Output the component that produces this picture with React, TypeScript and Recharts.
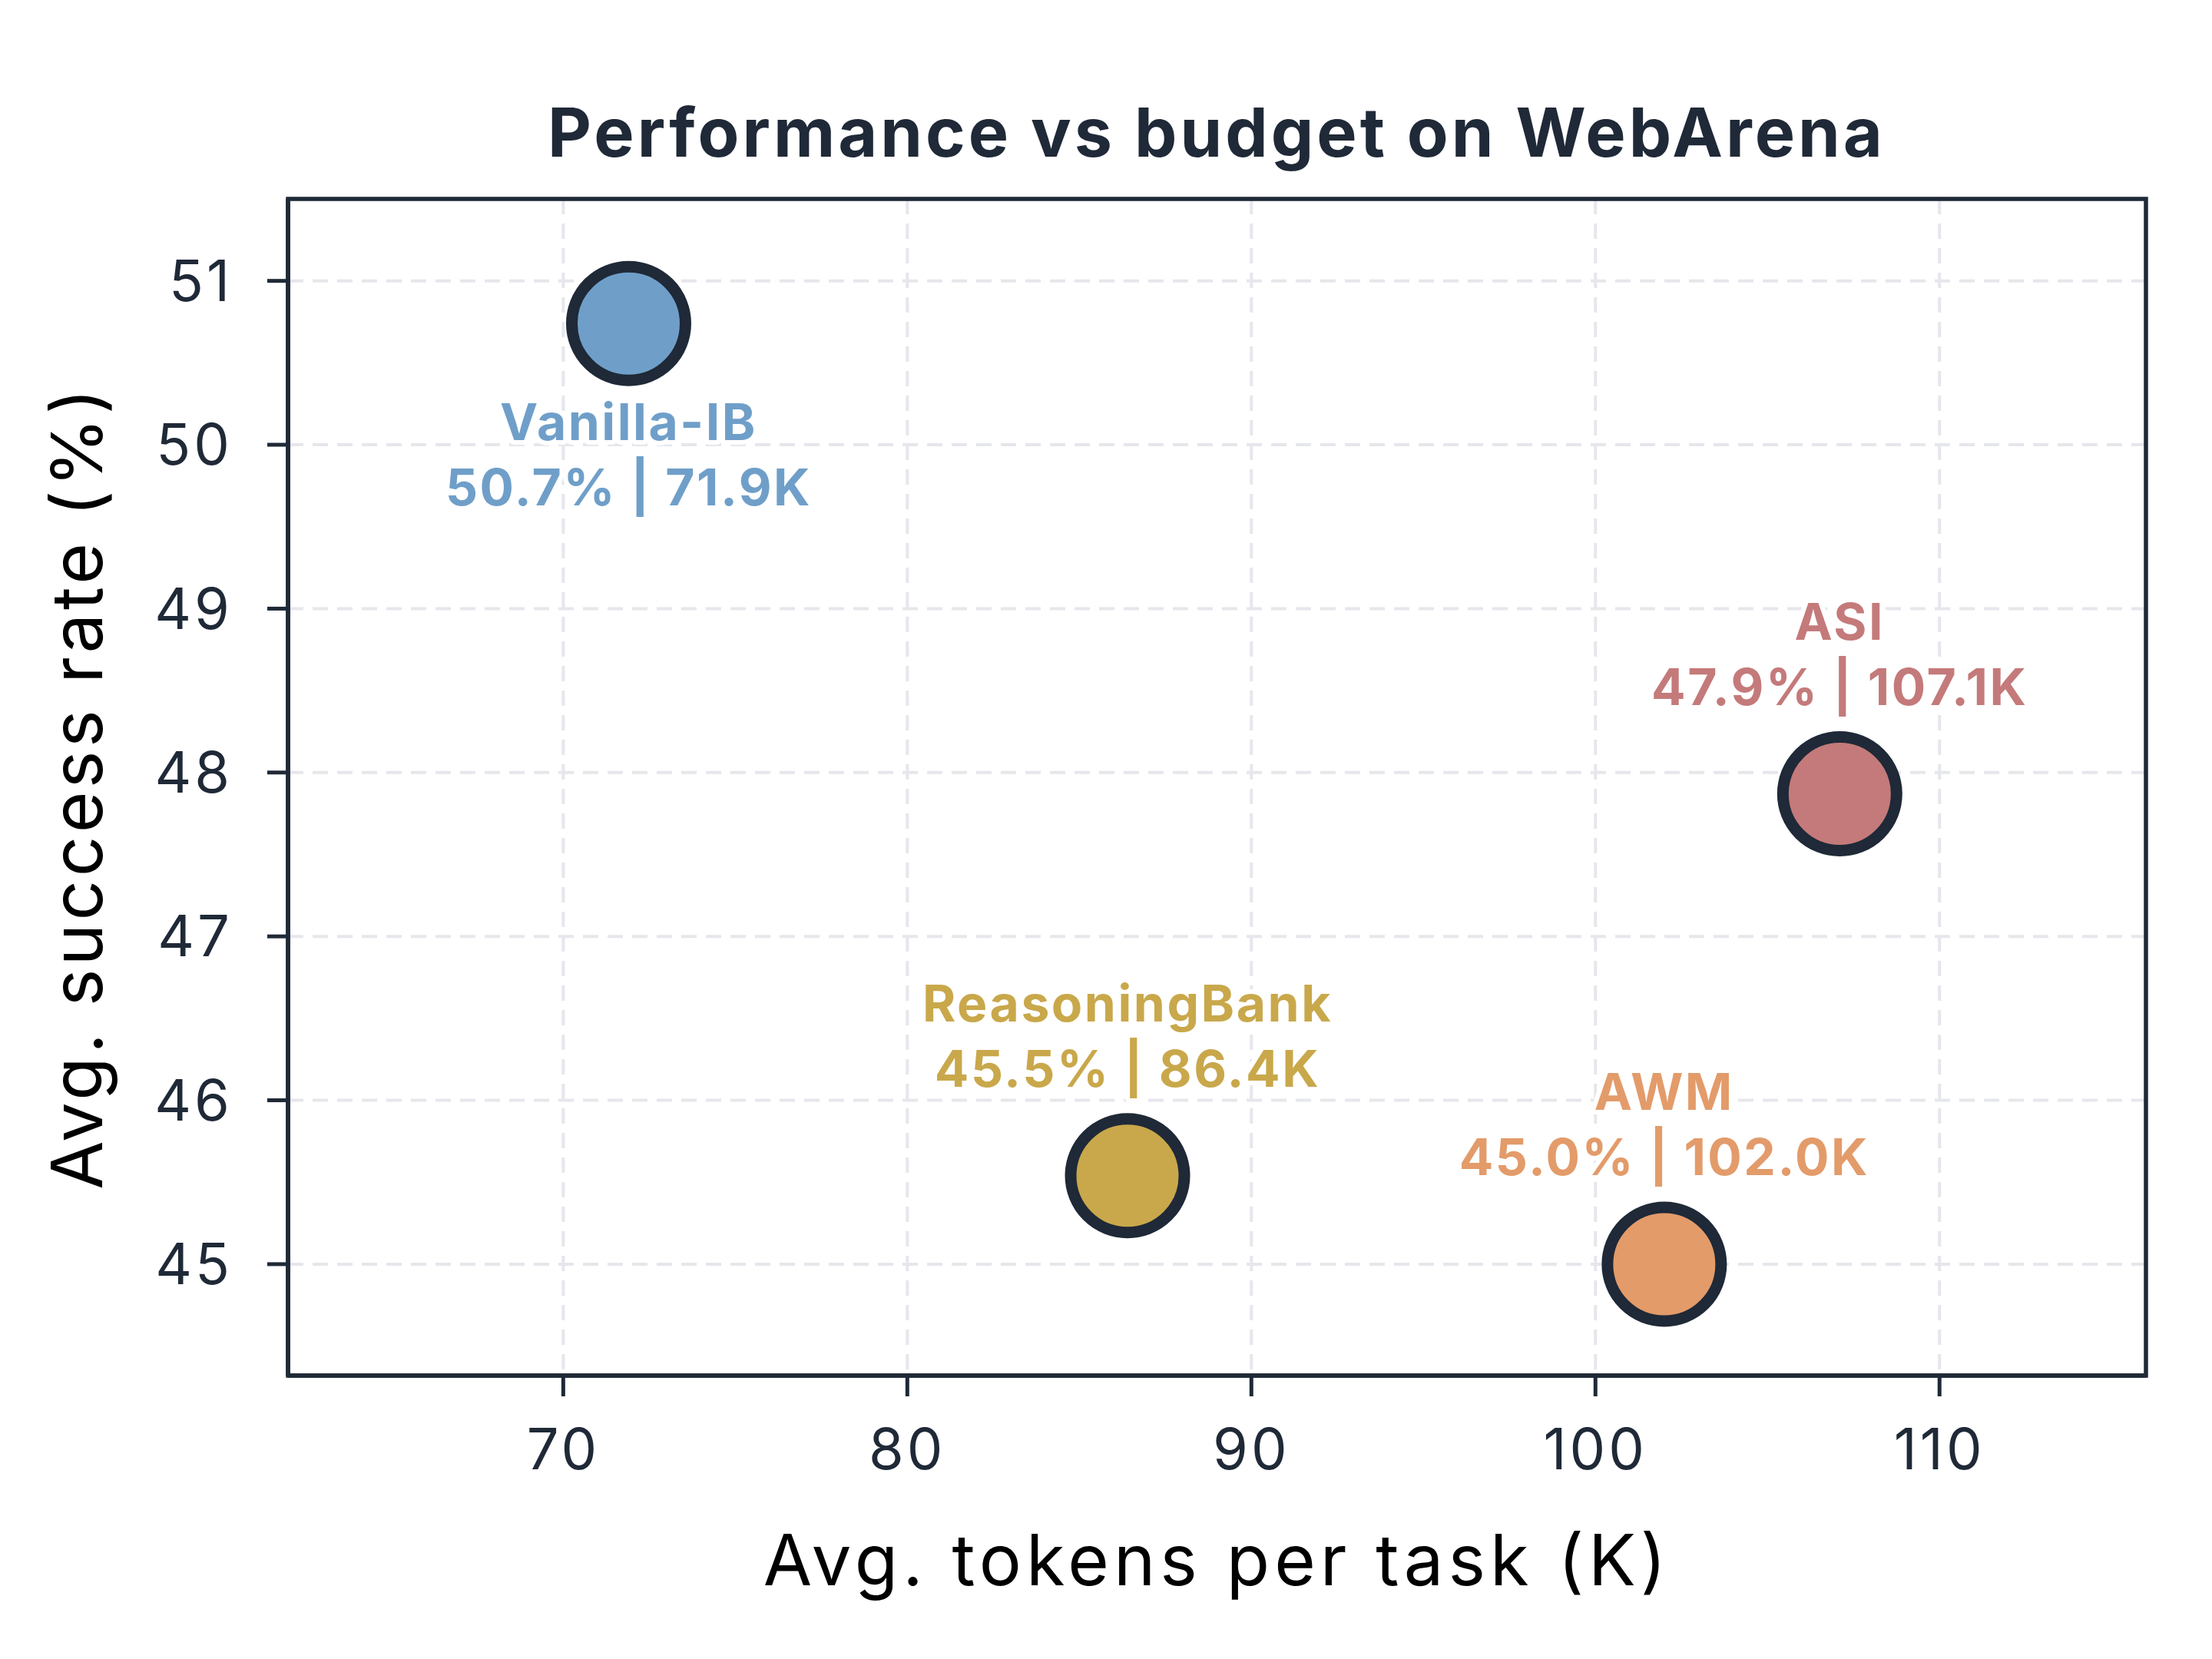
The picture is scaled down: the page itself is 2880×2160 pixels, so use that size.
import { ScatterChart, Scatter, XAxis, YAxis, CartesianGrid, ReferenceArea, Label } from 'recharts';

const methods = ['Vanilla-IB', 'ReasoningBank', 'AWM', 'ASI'];
const tokensK = [71.9, 86.4, 102.0, 107.1];
const successRate = [50.74, 45.54, 45.0, 47.87];
const xTicks = [70, 80, 90, 100, 110];
const yTicks = [45, 46, 47, 48, 49, 50, 51];

const COLORS = ['#6f9fc9', '#c9a84b', '#e39b6a', '#c47a7a'];
const LABEL_BELOW = ['Vanilla-IB'];
const INK = '#1f2937';
const FONT = 'Inter, "Open Sans", sans-serif';

const X_DOMAIN: [number, number] = [62, 116];
const Y_DOMAIN: [number, number] = [44.32, 51.5];

const data = methods.map((name, i) => ({ name, tokens: tokensK[i], rate: successRate[i] }));

// marker with its two-line annotation (name, then "rate% | tokensK")
function Bubble(props: any) {
  const { cx, cy, payload } = props;
  const color = COLORS[methods.indexOf(payload.name)];
  const below = LABEL_BELOW.includes(payload.name);
  const y1 = below ? cy + 152 : cy - 201;
  const y2 = y1 + 85;
  return (
    <g>
      <circle cx={cx} cy={cy} r={74} fill={color} stroke={INK} strokeWidth={15} />
      <text
        textAnchor="middle"
        fontFamily={FONT}
        fontWeight={700}
        fontSize={66}
        letterSpacing={2.5}
        fill={color}
        stroke="#ffffff"
        strokeWidth={12}
        strokeLinejoin="round"
        paintOrder="stroke"
      >
        <tspan x={cx} y={y1}>{payload.name}</tspan>
        <tspan x={cx} y={y2}>{`${payload.rate.toFixed(1)}% | ${payload.tokens.toFixed(1)}K`}</tspan>
      </text>
    </g>
  );
}

export default function App() {
  return (
    <div style={{ position: 'absolute', left: 0, top: 0, width: 2880, height: 2160, background: '#fff' }}>
      <ScatterChart width={2880} height={2160} margin={{ top: 259, right: 86, bottom: 219, left: 175 }}>
        <CartesianGrid stroke="#e6e7ec" strokeWidth={4} strokeDasharray="20 12" />
        <XAxis
          type="number"
          dataKey="tokens"
          domain={X_DOMAIN}
          ticks={xTicks}
          height={150}
          axisLine={{ stroke: INK, strokeWidth: 5.5 }}
          tickLine={{ stroke: INK, strokeWidth: 5 }}
          tickSize={27}
          tickMargin={42}
          tick={{ fontSize: 74, fill: INK, fontFamily: FONT, letterSpacing: 4 }}
        >
          <Label
            content={({ viewBox }: any) => (
              <text
                x={viewBox.x + viewBox.width / 2}
                y={viewBox.y + 273}
                textAnchor="middle"
                fontFamily={FONT}
                fontSize={92}
                letterSpacing={6}
                fill="#000"
              >
                Avg. tokens per task (K)
              </text>
            )}
          />
        </XAxis>
        <YAxis
          type="number"
          dataKey="rate"
          domain={Y_DOMAIN}
          ticks={yTicks}
          width={200}
          axisLine={{ stroke: INK, strokeWidth: 5.5 }}
          tickLine={{ stroke: INK, strokeWidth: 5 }}
          tickSize={27}
          tickMargin={45}
          tick={{ fontSize: 74, fill: INK, fontFamily: FONT, letterSpacing: 4 }}
        >
          <Label
            content={({ viewBox }: any) => {
              const x = viewBox.x - 42;
              const y = viewBox.y + viewBox.height / 2;
              return (
                <text
                  x={x}
                  y={y}
                  transform={`rotate(-90, ${x}, ${y})`}
                  textAnchor="middle"
                  fontFamily={FONT}
                  fontSize={92}
                  letterSpacing={4.5}
                  fill="#000"
                >
                  Avg. success rate (%)
                </text>
              );
            }}
          />
        </YAxis>
        <ReferenceArea
          x1={X_DOMAIN[0]}
          x2={X_DOMAIN[1]}
          y1={Y_DOMAIN[0]}
          y2={Y_DOMAIN[1]}
          fill="none"
          stroke={INK}
          strokeWidth={5.5}
          ifOverflow="visible"
        />
        <Scatter data={data} shape={Bubble} isAnimationActive={false} />
      </ScatterChart>
      <svg width={2880} height={2160} style={{ position: 'absolute', left: 0, top: 0, pointerEvents: 'none' }}>
        <text
          x={1584}
          y={204}
          textAnchor="middle"
          fontFamily={FONT}
          fontWeight={700}
          fontSize={88}
          letterSpacing={4}
          fill={INK}
        >
          Performance vs budget on WebArena
        </text>
      </svg>
    </div>
  );
}
